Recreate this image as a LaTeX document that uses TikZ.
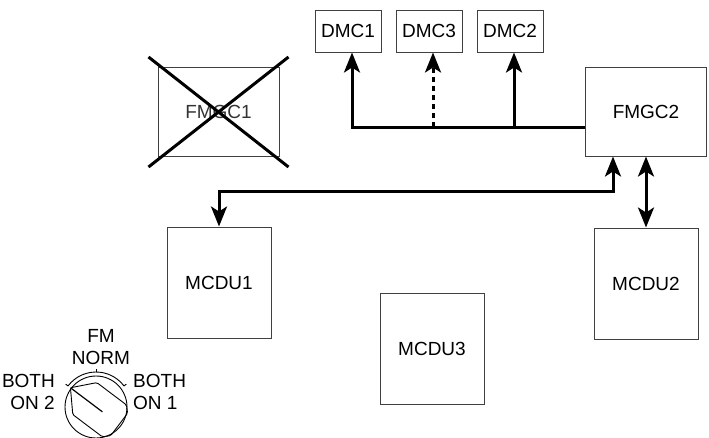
\documentclass[tikz,border=0pt]{standalone}
\usepackage{fontspec}
\setmainfont{Liberation Sans}
\usetikzlibrary{arrows.meta, positioning}
\tikzset{lru/.style={rectangle,draw=black!75,line width=1pt,inner sep=0pt,align=center,minimum width=104pt,minimum height=111pt},
  dmc/.style={lru,minimum width=66pt,minimum height=42pt},
  fmgc/.style={lru,minimum width=121pt,minimum height=89pt},
  lbl/.style={inner sep=0pt,align=center},
  wire/.style={line width=3pt},
  >={Stealth[length=20pt,width=16pt,inset=5pt]}}

\begin{document}
\begin{tikzpicture}[x=1pt,y=-1pt,font=\fontsize{19}{22}\selectfont]
\useasboundingbox (0,0) rectangle (709,437);
\node[fmgc,text=black!80] (fmgc1) at (218.5,112) {FMGC1};
\node[fmgc] (fmgc2) at (646,111.5) {FMGC2};
\node[dmc] (dmc1) at (348,31) {DMC1};
\node[dmc, right=14pt of dmc1] (dmc3) {DMC3};
\node[dmc, right=14pt of dmc3] (dmc2) {DMC2};
\node[lru] (mcdu1) at (219,282.5) {MCDU1};
\node[lru, below=71pt of fmgc2] (mcdu2) {MCDU2};
\node[lru] (mcdu3) at (432,348.5) {MCDU3};
% FMGC1 out of service
\draw[line width=3pt] ([shift={(-70,-55)}]fmgc1.center) -- ([shift={(70,55)}]fmgc1.center)
  ([shift={(-70,55)}]fmgc1.center) -- ([shift={(70,-55)}]fmgc1.center);
% display bus
\coordinate (bus) at (0,127);
\coordinate (jog) at (613,191);
\foreach \d in {dmc1,dmc3,dmc2} \coordinate (\d-in) at ([xshift=4pt]\d.south);
\draw[wire,->] (fmgc2.west |- bus) -| (dmc1-in);
\draw[wire,->] (dmc2-in |- bus) -- (dmc2-in);
\draw[wire,->,dash pattern=on 5pt off 4pt] (dmc3-in |- bus) -- (dmc3-in);
\draw[wire,<->] (fmgc2.south -| jog) -- (jog) -| (mcdu1.north);
\draw[wire,<->] (fmgc2.south) -- (mcdu2.north);
% FM selector
\coordinate (knob) at (96,407);
\begin{scope}[shift={(knob)},yscale=-1,line width=0.9pt]
  \draw (0,0) circle[radius=31];
  \draw (143:35) arc[start angle=143, end angle=37, radius=35];
  \foreach \a in {143,90,37} \draw (\a:35) -- (\a:38);
  \begin{scope}[rotate=37]
    \draw[rounded corners=1.5pt] (-32,0) -- (-14,20) -- (23,20) -- (29,14) -- (29,-14) -- (23,-20) -- (-14,-20) -- cycle;
    \draw[line width=1.2pt] (-32,0) -- (8,0);
  \end{scope}
\end{scope}
\node[lbl] (fmnorm) at (101,347) {FM\\NORM};
\node[lbl,anchor=east,align=right] (both2) at (55,392) {BOTH\\ON 2};
\node[lbl,anchor=west,align=left] (both1) at (133,392) {BOTH\\ON 1};
\end{tikzpicture}
\end{document}
